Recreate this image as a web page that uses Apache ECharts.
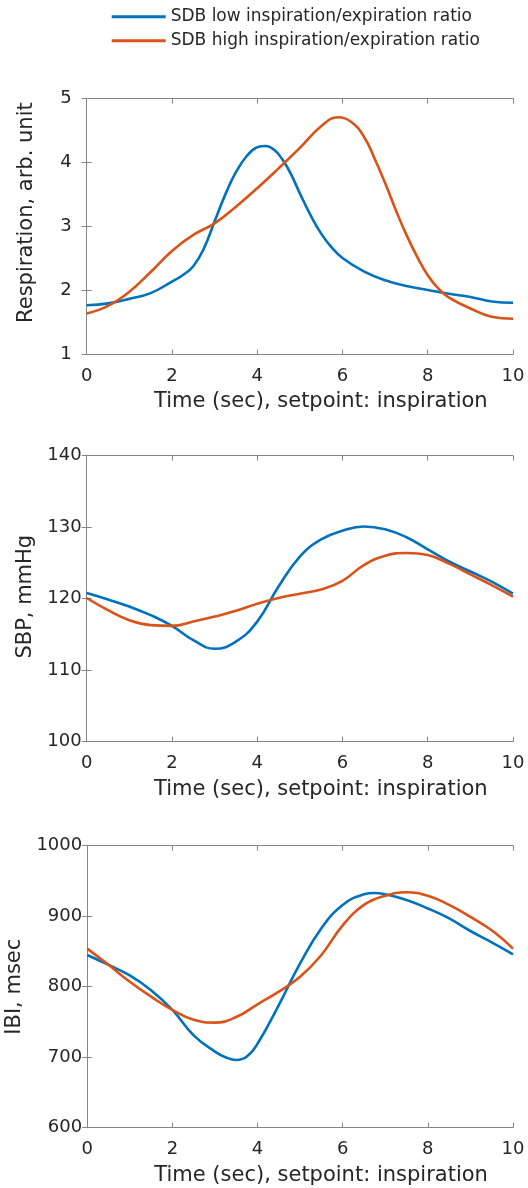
<!DOCTYPE html>
<html><head><meta charset="utf-8">
<script src="https://cdn.jsdelivr.net/npm/echarts@6/dist/echarts.min.js"></script>
<style>html,body{margin:0;padding:0;background:#fff}#c{width:528px;height:1188px}</style>
</head><body><div id="c"></div>
<script>
const seriesNames = ['SDB low inspiration/expiration ratio', 'SDB high inspiration/expiration ratio'];
const xTicks = [0, 2, 4, 6, 8, 10];

const respLowT = [0,0.5,1,1.5,2,2.25,2.5,2.75,3,3.25,3.5,3.75,4,4.2,4.4,4.6,4.8,5,5.25,5.5,5.75,6,6.5,7,7.5,8,8.5,9,9.5,10];
const respLowV = [1.77,1.80,1.87,1.96,2.14,2.24,2.38,2.66,3.08,3.50,3.85,4.10,4.24,4.26,4.20,4.04,3.81,3.52,3.18,2.89,2.67,2.51,2.30,2.16,2.07,2.01,1.95,1.90,1.83,1.81];
const respHighT = [0,0.5,1,1.5,2,2.5,3,3.5,4,4.5,5,5.5,5.9,6.2,6.5,6.75,7,7.25,7.5,7.75,8,8.25,8.5,9,9.5,10];
const respHighV = [1.64,1.76,1.98,2.29,2.62,2.87,3.05,3.31,3.60,3.91,4.23,4.57,4.71,4.64,4.41,4.07,3.68,3.26,2.87,2.53,2.24,2.03,1.89,1.72,1.59,1.56];

const sbpLowT = [0,0.5,1,1.5,2,2.5,3,3.5,4,4.5,5,5.5,6,6.5,7,7.5,8,8.5,9,9.5,10];
const sbpLowV = [120.8,119.9,118.9,117.7,116.2,114.2,113.0,114.0,116.8,121.7,125.9,128.3,129.5,130.1,129.7,128.6,126.9,125.2,123.8,122.4,120.7];
const sbpHighT = [0,0.5,1,1.5,2,2.5,3,3.5,4,4.5,5,5.5,6,6.5,7,7.5,8,8.5,9,9.5,10];
const sbpHighV = [120.1,118.4,117.0,116.3,116.2,116.8,117.5,118.3,119.3,120.1,120.7,121.3,122.5,124.7,126.0,126.4,126.1,124.9,123.4,121.9,120.3];

const ibiLowT = [0,0.5,1,1.5,2,2.5,3,3.25,3.5,3.75,4,4.5,5,5.5,6,6.5,6.75,7,7.5,8,8.5,9,9.5,10];
const ibiLowV = [845,831,816,795,767,731,708,700,696,701,719,774,833,883,916,931,933,931,923,911,897,879,863,846];
const ibiHighT = [0,0.5,1,1.5,2,2.5,3,3.5,4,4.5,5,5.5,6,6.5,7,7.5,8,8.5,9,9.5,10];
const ibiHighV = [854,831,807,786,767,753,749,757,775,793,814,845,887,916,929,934,929,916,899,880,854];

const yNames = ['Respiration, arb. unit', 'SBP, mmHg', 'IBI, msec'];
const yMin = [1, 100, 600];
const yMax = [5, 140, 1000];
const yInterval = [1, 10, 100];
const xName = 'Time (sec), setpoint: inspiration';

const FONT = 'DejaVu Sans';
const TXT = '#262626';
const AX = '#858585';
const BLUE = '#0072BD', ORANGE = '#D95319';

const grids = [
  {left: 86.7, right: 15, top: 98.7, height: 255.8, outerBoundsMode: 'none'},
  {left: 86.7, right: 15, top: 455.7, height: 286, outerBoundsMode: 'none'},
  {left: 87.2, right: 15, top: 845.7, height: 282, outerBoundsMode: 'none'}
];
const yNameGap = [50, 47, 51];
const yNamePad = [[0, 0, 0, 28], [0, 0, 0, 4], [0, 0, 0, 0]];
const yLabelMargin = [15, 5, 5];

const pairs = (t, v) => t.map((x, i) => [x, v[i]]);
const data = [
  [pairs(respLowT, respLowV), pairs(respHighT, respHighV)],
  [pairs(sbpLowT, sbpLowV), pairs(sbpHighT, sbpHighV)],
  [pairs(ibiLowT, ibiLowV), pairs(ibiHighT, ibiHighV)]
];

const xAxis = [], yAxis = [], series = [];
for (let g = 0; g < 3; g++) {
  const axLine = {show: true, lineStyle: {color: AX, width: 1}};
  const tick = {show: true, inside: true, length: 5, lineStyle: {color: AX, width: 1}};
  xAxis.push({
    type: 'value', gridIndex: g, min: 0, max: 10, interval: 2, position: 'bottom',
    axisLine: axLine, axisTick: tick, splitLine: {show: false},
    axisLabel: {color: TXT, fontSize: 18, fontFamily: FONT, margin: 13},
    name: xName, nameLocation: 'middle', nameGap: 37,
    nameTextStyle: {color: TXT, fontSize: 21, fontFamily: FONT, padding: [0, 0, 0, 42]}
  });
  xAxis.push({
    type: 'value', gridIndex: g, min: 0, max: 10, interval: 2, position: 'top',
    axisLine: axLine, axisTick: tick, splitLine: {show: false}, axisLabel: {show: false}
  });
  yAxis.push({
    type: 'value', gridIndex: g, min: yMin[g], max: yMax[g], interval: yInterval[g], position: 'left',
    axisLine: axLine, axisTick: tick, splitLine: {show: false},
    axisLabel: {color: TXT, fontSize: 18, fontFamily: FONT, margin: yLabelMargin[g], formatter: v => String(v)},
    name: yNames[g], nameLocation: 'middle', nameGap: yNameGap[g],
    nameTextStyle: {color: TXT, fontSize: 21, fontFamily: FONT, padding: yNamePad[g]}
  });
  yAxis.push({
    type: 'value', gridIndex: g, min: yMin[g], max: yMax[g], interval: yInterval[g], position: 'right',
    axisLine: axLine, axisTick: tick, splitLine: {show: false}, axisLabel: {show: false}
  });
  [0, 1].forEach(k => {
    series.push({
      name: seriesNames[k], type: 'line', xAxisIndex: 2 * g, yAxisIndex: 2 * g,
      data: data[g][k], smooth: 0.45, showSymbol: false, symbol: 'none',
      lineStyle: {color: k ? ORANGE : BLUE, width: 2.6},
      itemStyle: {color: k ? ORANGE : BLUE},
      z: k ? 3 : 2, animation: false
    });
  });
}

const chart = echarts.init(document.getElementById('c'), null, {renderer: 'canvas'});
chart.setOption({
  animation: false,
  backgroundColor: '#fff',
  grid: grids,
  legend: {
    data: seriesNames, orient: 'vertical', left: 111.7, top: 6.7, padding: 0,
    icon: 'rect', itemWidth: 54, itemHeight: 3, itemGap: 4,
    textStyle: {color: TXT, fontSize: 17, fontFamily: FONT, lineHeight: 20}
  },
  xAxis: xAxis, yAxis: yAxis, series: series
});
</script></body></html>
